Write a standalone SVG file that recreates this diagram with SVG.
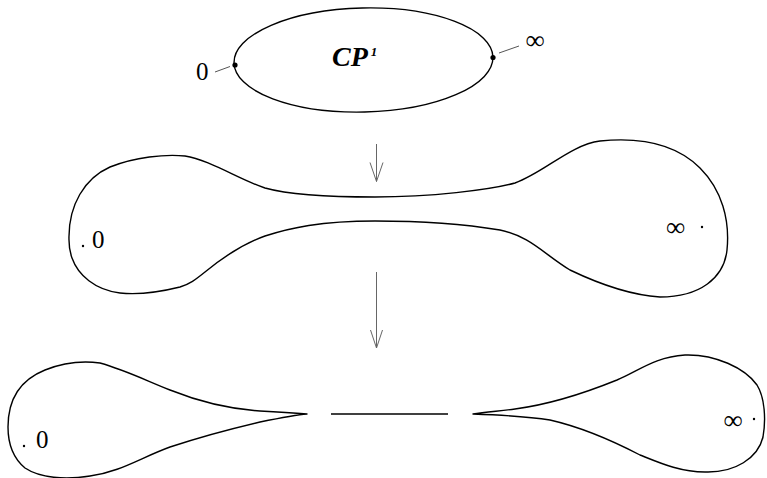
<svg xmlns="http://www.w3.org/2000/svg" width="767" height="478" viewBox="0 0 767 478">
<style>
.shape{fill:none;stroke:#000;stroke-width:1.4;stroke-linejoin:round}
.lead{stroke:#555;stroke-width:1}
.arrow{stroke:#666;stroke-width:1;fill:none}
.lbl{font-family:"Liberation Serif","DejaVu Serif",serif;font-size:25px;fill:#000}
.inf{font-family:"Liberation Serif","DejaVu Serif",serif;font-size:27px;fill:#000}
.pt{fill:#000}
</style>
<rect width="767" height="478" fill="#fff"/>
<g id="sphere">
<ellipse class="shape" cx="363.5" cy="60" rx="129.5" ry="52" transform="rotate(-1.3 363.5 60)"/>
<circle class="pt" cx="235" cy="65" r="2.6"/>
<circle class="pt" cx="493" cy="57.5" r="2.6"/>
<line class="lead" x1="215" y1="72" x2="230" y2="66.5"/>
<line class="lead" x1="499" y1="53" x2="519" y2="46"/>
<text class="lbl" x="196" y="79.5">0</text>
<text class="inf" x="535" y="49" text-anchor="middle">∞</text>
<text x="332" y="66" font-family="Liberation Serif,serif" font-weight="bold" font-style="italic" font-size="28">CP<tspan font-size="13" dx="3" dy="-10">1</tspan></text>
</g>
<g id="stretched">
<path class="shape" d="M69,240 C68,205 85,178 110,167 C135,157 165,154 185,156 C210,160 240,180 265,188 C290,195 330,197 375,197 C430,197 490,190 515,183 C545,172 570,145 600,141 C640,137 675,143 700,168 C722,190 730,220 727,250 C724,278 700,297 660,297 C630,295 595,282 570,270 C545,255 530,236 500,230 C470,225 430,221 375,221 C320,221 290,228 265,236 C240,245 222,258 205,272 C195,280 190,284 180,287 C160,292 140,295 120,293 C95,290 78,275 72,258 C69,250 69,245 69,240 Z"/>
<circle class="pt" cx="83" cy="246" r="1.2"/>
<text class="lbl" x="92" y="247.5">0</text>
<text class="inf" x="675.5" y="236" text-anchor="middle">∞</text>
<circle class="pt" cx="702" cy="227" r="1.2"/>
</g>
<g id="pinched">
<path class="shape" d="M8,427 C8,400 20,380 45,370 C65,362 85,361 100,363 C125,370 145,380 170,390 C200,402 230,409 260,411 C280,412 295,413 307,414 C295,415 280,418 260,422 C230,429 200,437 170,447 C140,458 120,472 90,476 C65,480 40,478 25,468 C13,458 8,445 8,427 Z"/>
<line class="shape" x1="331" y1="414" x2="448" y2="414"/>
<path class="shape" d="M473,414 C485,412 500,411 515,409 C545,405 580,395 617,380 C640,370 655,357 685,355 C715,354 745,368 757,385 C765,398 766,420 763,437 C758,458 735,473 705,472 C680,472 660,463 640,455 C615,442 585,428 550,420 C525,416 500,415 473,414 Z"/>
<circle class="pt" cx="24" cy="446" r="1.2"/>
<text class="lbl" x="36" y="447.5">0</text>
<text class="inf" x="733" y="429" text-anchor="middle">∞</text>
<circle class="pt" cx="754" cy="419" r="1.2"/>
</g>
<g id="connectors">
<path class="arrow" d="M376.5,144 V181.5 M370,162.5 L376.5,181.5 L383,162.5"/>
<path class="arrow" d="M376.5,272 V348 M370.5,330 L376.5,348 L382.5,330"/>
</g>
</svg>
